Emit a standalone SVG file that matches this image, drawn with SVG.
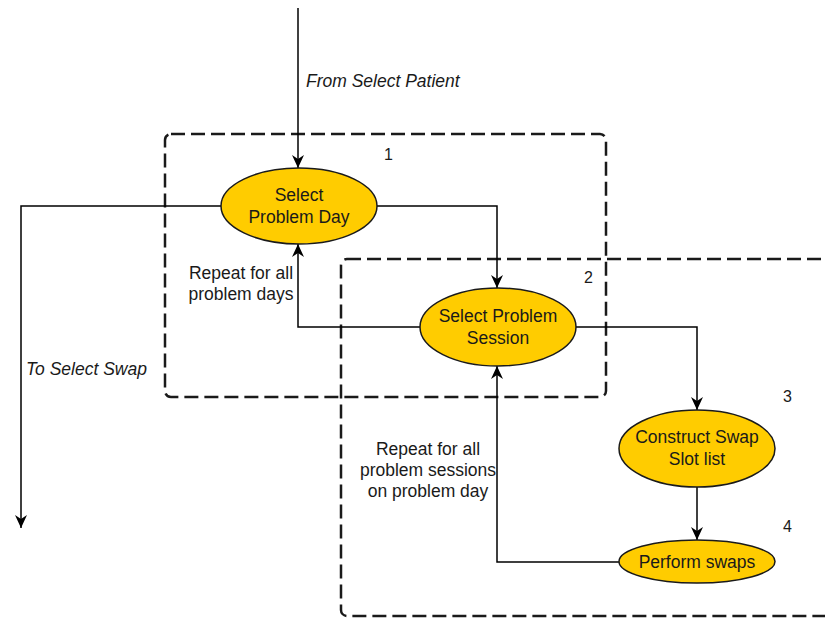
<svg xmlns="http://www.w3.org/2000/svg" width="825" height="619" viewBox="0 0 825 619">
  <style>
    .grp { fill: none; stroke: #1a1a1a; stroke-width: 2.5; stroke-dasharray: 14 6; }
    .node ellipse { fill: #FFCC00; stroke: #1a1a1a; stroke-width: 1.5; }
    .node text, .lbl { font-family: "Liberation Sans", Arial, sans-serif; font-size: 17.5px; fill: #1a1a1a; }
    .node text { text-anchor: middle; }
    .it { font-style: italic; }
    .num { font-family: "Liberation Sans", Arial, sans-serif; font-size: 16px; fill: #1a1a1a; }
    .edge { fill: none; stroke: #000; stroke-width: 1.5; marker-end: url(#arr); }
  </style>
  <defs>
    <marker id="arr" markerUnits="userSpaceOnUse" markerWidth="15" markerHeight="15" viewBox="0 0 15 15" refX="14" refY="7.5" orient="auto">
      <path d="M14,7.5 L1,1.5 L5,7.5 L1,13.5 Z" fill="#000"/>
    </marker>
  </defs>
  <rect width="825" height="619" fill="#fff"/>

  <!-- grouping frames -->
  <g id="frames">
    <rect class="grp" x="165" y="134" width="441" height="263" rx="6"/>
    <rect class="grp" x="341" y="259" width="520" height="357" rx="6"/>
  </g>

  <!-- connectors -->
  <g id="connectors">
    <path class="edge" d="M298,8 L298,168"/>
    <path class="edge" d="M221,206 L21,206 L21,528"/>
    <path class="edge" d="M377,206 L497,206 L497,288"/>
    <path class="edge" d="M420,327 L298,327 L298,244"/>
    <path class="edge" d="M576,327 L697,327 L697,410"/>
    <path class="edge" d="M697,487 L697,540"/>
    <path class="edge" d="M619,562 L497,562 L497,366"/>
  </g>

  <!-- connector labels -->
  <g id="labels">
    <text class="lbl it" x="306" y="87">From Select Patient</text>
    <text class="lbl it" x="26" y="375">To Select Swap</text>
    <text class="lbl" text-anchor="middle"><tspan x="241" y="279">Repeat for all</tspan><tspan x="241" y="300">problem days</tspan></text>
    <text class="lbl" text-anchor="middle"><tspan x="428" y="455">Repeat for all</tspan><tspan x="428" y="476">problem sessions</tspan><tspan x="428" y="497">on problem day</tspan></text>
    <text class="num" x="384" y="160">1</text>
    <text class="num" x="584" y="283">2</text>
    <text class="num" x="783" y="402">3</text>
    <text class="num" x="783" y="532">4</text>
  </g>

  <g id="select-problem-day" class="node">
    <ellipse cx="299" cy="206" rx="78" ry="38"/>
    <text><tspan x="299" y="201">Select</tspan><tspan x="299" y="223">Problem Day</tspan></text>
  </g>
  <g id="select-problem-session" class="node">
    <ellipse cx="498" cy="327" rx="78" ry="39"/>
    <text><tspan x="498" y="322">Select Problem</tspan><tspan x="498" y="344">Session</tspan></text>
  </g>
  <g id="construct-swap-slot-list" class="node">
    <ellipse cx="697" cy="448.5" rx="78" ry="38.5"/>
    <text><tspan x="697" y="443">Construct Swap</tspan><tspan x="697" y="465">Slot list</tspan></text>
  </g>
  <g id="perform-swaps" class="node">
    <ellipse cx="697" cy="561.5" rx="78" ry="21.5"/>
    <text x="697" y="568">Perform swaps</text>
  </g>
</svg>
